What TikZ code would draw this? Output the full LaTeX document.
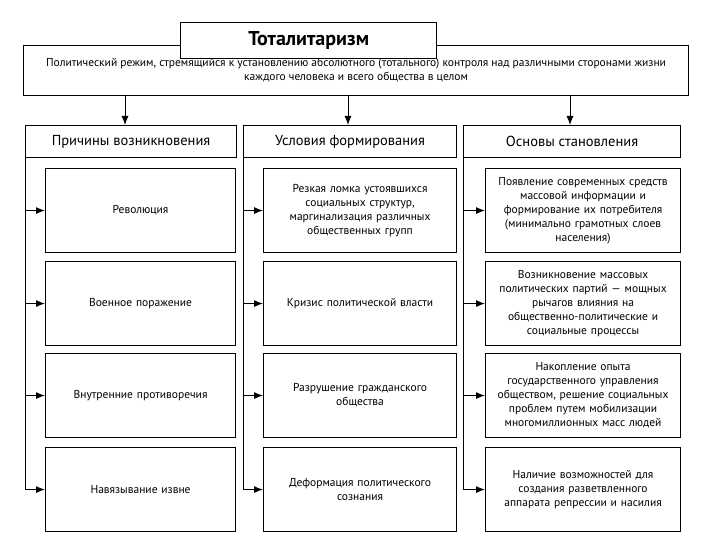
\documentclass[tikz,border=0pt]{standalone}
\usepackage{fontspec}
\setmainfont{PT Sans}
\usetikzlibrary{arrows.meta,calc}
\begin{document}
\begin{tikzpicture}[x=1pt,y=-1pt,
  box/.style={draw,line width=1.1pt,fill=white,inner sep=2pt,align=center,font=\fontsize{11.5}{14}\selectfont},
  hdr/.style={draw,line width=1.1pt,fill=white,align=center,font=\fontsize{14.5}{16}\selectfont},
  arr/.style={line width=1pt,-{Latex[length=9pt,width=7pt]}}]
\useasboundingbox (0,0) rectangle (720,540);
% description box
\node[draw,line width=1.1pt,minimum width=665pt,minimum height=50pt,anchor=north west,inner sep=0pt,align=center,font=\fontsize{11.5}{16}\selectfont] (desc) at (23,45)
 {\raisebox{-2pt}{Политический режим, стремящийся к установлению абсолютного (тотального) контроля над различными сторонами жизни}\\каждого человека и всего общества в целом};
\node[draw,line width=1.3pt,fill=white,minimum width=256pt,minimum height=36pt,anchor=north west,inner sep=0pt,font=\fontsize{20}{22}\bfseries\selectfont] (title) at (180,22) {Тоталитаризм};
% headers
\node[hdr,minimum width=211pt,minimum height=32pt,anchor=north west,inner sep=0pt] (h1) at (25,125) {Причины возникновения};
\node[hdr,minimum width=213pt,minimum height=32pt,anchor=north west,inner sep=0pt] (h2) at (243,125) {Условия формирования};
\node[hdr,minimum width=217pt,minimum height=32pt,anchor=north west,inner sep=0pt] (h3) at (463,125) {Основы становления};
\foreach \i/\x in {1/125,2/348,3/570}{
  \coordinate (t\i) at (\x,95);
  \draw[arr] (t\i) -- (t\i |- h\i.north);
}
% column 1
\tikzset{c1/.style={box,minimum width=190pt,minimum height=84pt,text width=180pt,anchor=north west}}
\node[c1] (b11) at (45,168) {Революция};
\node[c1] (b12) at (45,261) {Военное поражение};
\node[c1] (b13) at (45,353) {Внутренние противоречия};
\node[c1] (b14) at (45,447) {Навязывание извне};
% column 2
\tikzset{c2/.style={box,minimum width=193pt,minimum height=84pt,text width=183pt,anchor=north west}}
\node[c2] (b21) at (263,168) {Резкая ломка устоявшихся\\социальных структур,\\маргинализация различных\\общественных групп};
\node[c2] (b22) at (263,261) {Кризис политической власти};
\node[c2] (b23) at (263,353) {Разрушение гражданского\\общества};
\node[c2] (b24) at (263,447) {Деформация политического\\сознания};
% column 3
\tikzset{c3/.style={box,minimum width=195pt,minimum height=84pt,text width=188pt,anchor=north west}}
\node[c3] (b31) at (485,168) {Появление современных средств\\массовой информации и\\формирование их потребителя\\(минимально грамотных слоев\\населения)};
\node[c3] (b32) at (485,261) {Возникновение массовых\\политических партий — мощных\\рычагов влияния на\\общественно-политические и\\социальные процессы};
\node[c3] (b33) at (485,353) {Накопление опыта\\государственного управления\\обществом, решение социальных\\проблем путем мобилизации\\многомиллионных масс людей};
\node[c3] (b34) at (485,447) {Наличие возможностей для\\создания разветвленного\\аппарата репрессии и насилия};
% connectors
\foreach \c in {1,2,3}{
  \draw[line width=1pt] (h\c.south west) -- (h\c.south west |- b\c4.west);
  \foreach \r in {1,2,3,4}{
    \draw[arr] (h\c.south west |- b\c\r.west) -- (b\c\r.west);
  }
}
\end{tikzpicture}
\end{document}
